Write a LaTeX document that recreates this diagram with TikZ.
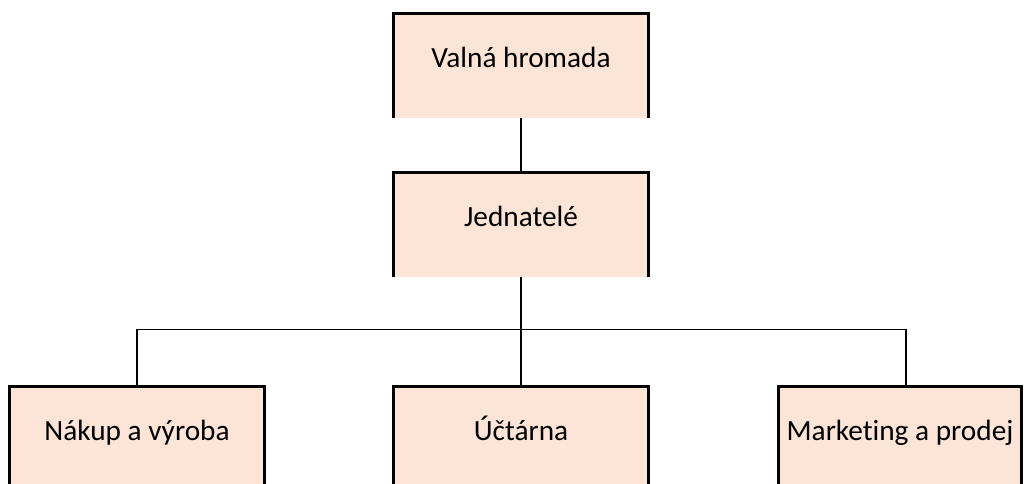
\documentclass[tikz,border=0pt]{standalone}
\usepackage{fontspec}
\setmainfont{Carlito}[Ligatures=NoCommon]
\definecolor{peach}{HTML}{FCE4D6}
\begin{document}
\begin{tikzpicture}[x=1pt,y=-1pt,
  box/.style={fill=peach, draw=none, inner sep=0pt, anchor=north},
  lbl/.style={anchor=base, inner sep=0pt, font=\fontsize{29.3}{34}\selectfont},
  border/.style={line width=2.7pt, line join=miter},
  conn/.style={line width=1.6pt}]
\useasboundingbox (0,0) rectangle (1025,484);
% boxes
\node[box, minimum width=255pt, minimum height=104.5pt] (vh) at (521,13.5) {};
\node[box, minimum width=255pt, minimum height=104.5pt] (jd) at (521,172.5) {};
\node[box, minimum width=255pt, minimum height=97.5pt] (nv) at (137,386.5) {};
\node[box, minimum width=255pt, minimum height=97.5pt] (uc) at (521,386.5) {};
\node[box, minimum width=242pt, minimum height=97.5pt] (mp) at (900,386.5) {};
% borders (open at the bottom)
\foreach \b in {vh,jd,nv,uc,mp}
  \draw[border] (\b.south west) -- (\b.north west) -- (\b.north east) -- (\b.south east);
% labels
\node[lbl] (tvh) at ([yshift=-54pt]vh.north) {Valná hromada};
\node[lbl] (tjd) at ([yshift=-54pt]jd.north) {Jednatelé};
\node[lbl] (tnv) at ([yshift=-54pt]nv.north) {Nákup a výroba};
\node[lbl] (tuc) at ([yshift=-54pt]uc.north) {Účtárna};
\node[lbl] (tmp) at ([yshift=-54pt]mp.north) {Marketing a prodej};
% connectors
\coordinate (bus) at (521,329.5);
\coordinate (mpin) at ([xshift=6pt]mp.north);
\draw[conn] (vh.south) -- (jd.north);
\draw[conn] (jd.south) -- (uc.north);
\draw[conn] (nv.north) |- (bus) -| (mpin);
\end{tikzpicture}
\end{document}
